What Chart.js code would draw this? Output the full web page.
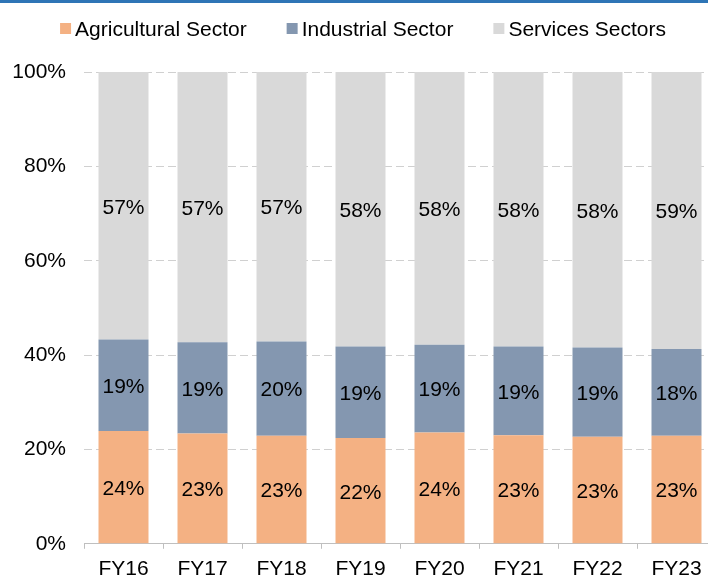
<!DOCTYPE html>
<html>
<head>
<meta charset="utf-8">
<script src="https://cdn.jsdelivr.net/npm/chart.js@4.4.1/dist/chart.umd.min.js"></script>
<style>
  html, body { margin: 0; padding: 0; background: #fff; overflow: hidden; }
  #wrap { width: 708px; height: 578px; overflow: hidden; }
</style>
</head>
<body>
<div id="wrap">
  <canvas id="sector-chart" width="726" height="590"></canvas>
</div>
<script>
const FONT = '"Liberation Sans", Arial, sans-serif';

const categories = ["FY16", "FY17", "FY18", "FY19", "FY20", "FY21", "FY22", "FY23"];
const agricultural = [23.9, 23.4, 22.9, 22.4, 23.6, 23.0, 22.7, 22.9];
const industrial = [19.4, 19.3, 20.0, 19.4, 18.6, 18.8, 18.9, 18.4];
const services = [56.7, 57.3, 57.1, 58.2, 57.8, 58.2, 58.4, 58.7];
const seriesNames = ["Agricultural Sector", "Industrial Sector", "Services Sectors"];
const seriesColors = ["#F4B183", "#8497B0", "#D9D9D9"];
const yTicks = [0, 20, 40, 60, 80, 100];

// blue rule across the top + legend row drawn by hand (tight box/text gap)
const headerPlugin = {
  id: "header",
  afterDraw(chart) {
    const ctx = chart.ctx;
    ctx.save();
    ctx.fillStyle = "#2E75B6";
    ctx.fillRect(0, 0, chart.width, 3);

    ctx.font = "21px " + FONT;
    const box = 11, gap = 4, spacing = 40;
    const items = chart.data.datasets.map((ds) => ({
      label: ds.label,
      color: ds.backgroundColor,
      w: box + gap + ctx.measureText(ds.label).width,
    }));
    const total = items.reduce((s, it) => s + it.w, 0) + spacing * (items.length - 1);
    let x = chart.width / 2 - total / 2;
    items.forEach((it) => {
      ctx.fillStyle = it.color;
      ctx.fillRect(x, 23, box, box);
      ctx.fillStyle = "#000";
      ctx.textBaseline = "alphabetic";
      ctx.textAlign = "left";
      ctx.fillText(it.label, x + box + gap, 36);
      x += it.w + spacing;
    });
    ctx.restore();
  },
};

// percentage text in the middle of every segment
const segmentLabels = {
  id: "segmentLabels",
  afterDatasetsDraw(chart) {
    const ctx = chart.ctx;
    ctx.save();
    ctx.font = "21px " + FONT;
    ctx.fillStyle = "#000";
    ctx.textAlign = "center";
    ctx.textBaseline = "middle";
    chart.data.datasets.forEach((ds, i) => {
      chart.getDatasetMeta(i).data.forEach((bar, j) => {
        const v = ds.data[j];
        ctx.fillText(Math.round(v) + "%", bar.x, (bar.y + bar.base) / 2 + 2);
      });
    });
    ctx.restore();
  },
};

const datasets = [agricultural, industrial, services].map((data, i) => ({
  label: seriesNames[i],
  data: data,
  backgroundColor: seriesColors[i],
  borderWidth: 0,
  categoryPercentage: 1,
  barPercentage: 0.633,
}));

new Chart(document.getElementById("sector-chart"), {
  type: "bar",
  data: { labels: categories, datasets: datasets },
  options: {
    responsive: false,
    animation: false,
    devicePixelRatio: 1,
    layout: { padding: { top: 72, left: 12, right: 10, bottom: 0 } },
    plugins: {
      legend: { display: false },
      tooltip: { enabled: false },
    },
    scales: {
      x: {
        stacked: true,
        grid: {
          display: true,
          drawOnChartArea: false,
          drawTicks: true,
          tickLength: 5,
          color: "#BFBFBF",
          offset: true,
        },
        border: { display: true, color: "#BFBFBF" },
        ticks: { color: "#000", padding: 8, font: { size: 21, family: FONT } },
      },
      y: {
        stacked: true,
        min: 0,
        max: 100,
        afterBuildTicks: (scale) => {
          scale.ticks = yTicks.map((v) => ({ value: v }));
        },
        // label column: text + 18px gap to the plot
        afterFit: (scale) => {
          scale.width = 72;
        },
        grid: { color: "#D0D0D0", drawTicks: false, lineWidth: 1 },
        border: { display: false, dash: [8, 4] },
        ticks: {
          color: "#000",
          padding: 18,
          font: { size: 21, family: FONT },
          callback: (v) => v + "%",
        },
      },
    },
  },
  plugins: [headerPlugin, segmentLabels],
});
</script>
</body>
</html>
